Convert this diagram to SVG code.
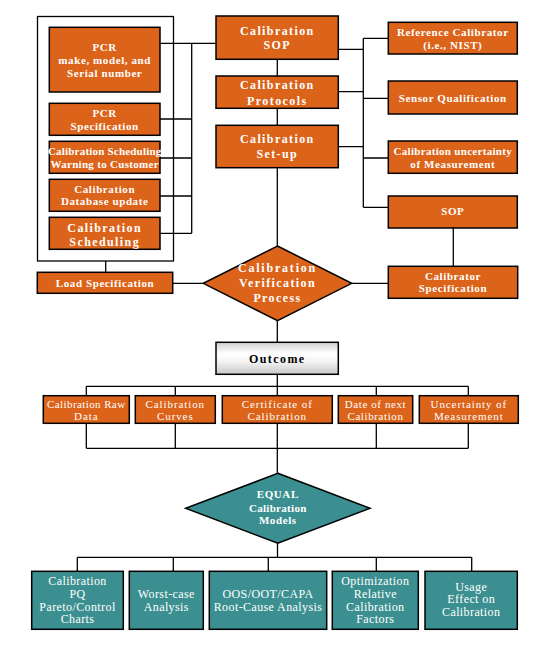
<svg xmlns="http://www.w3.org/2000/svg" width="554" height="652" viewBox="0 0 554 652">
<defs>
<linearGradient id="og" x1="0" y1="0" x2="0" y2="1">
<stop offset="0" stop-color="#cfcfcf"/>
<stop offset="0.35" stop-color="#ffffff"/>
<stop offset="0.6" stop-color="#f4f4f4"/>
<stop offset="1" stop-color="#c8c8c8"/>
</linearGradient>
<style>
.o{fill:#dc631a;stroke:#000;stroke-width:1.5}
.t{fill:#3c8f90;stroke:#000;stroke-width:1.5}
.ln{stroke:#000;stroke-width:1.3;fill:none}
text{font-family:"Liberation Serif","Times New Roman",serif;text-anchor:middle;fill:#fff}
.b{font-weight:bold;font-size:11px;letter-spacing:0.6px}
.b2{font-weight:bold;font-size:12px;letter-spacing:1.4px}
.r{font-size:12px;letter-spacing:0.4px}
.r2{font-size:11px;letter-spacing:0.9px}
</style>
</defs>
<rect width="554" height="652" fill="#fff"/>
<g id="connectors" class="ln">
<rect x="37.5" y="16.5" width="136" height="244.5" fill="none"/>
<path d="M160 43.3H216M160 119H191.7M160 158H191.7M160 196H191.7M160 233.3H191.7M191.7 43.3V233.3"/>
<path d="M277.3 59.3V76M277.3 108.3V125.3M277.3 167.7V246"/>
<path d="M338.3 49.3H363.3M338.3 91.7H363.3M338.3 146.7H363.3M363.3 38.3V207.3M363.3 38.3H388.3M363.3 98.3H388.3M363.3 158H388.3M363.3 207.3H388.3"/>
<path d="M453.3 228V266.3"/>
<path d="M105.7 261V272.3M172.7 283.3H203.3M351.7 283.3H388.3"/>
<path d="M277.3 320.7V342.3M277.3 374.3V473.3"/>
<path d="M86.3 386.3H468.3M86.3 386.3V395.7M175.3 386.3V395.7M376.3 386.3V395.7M468.3 386.3V395.7"/>
<path d="M86.3 448.3H468.3M86.3 423.3V448.3M175.3 423.3V448.3M376.3 423.3V448.3M468.3 423.3V448.3"/>
<path d="M277.5 543.3V557.3M77.3 557.3H471.7M77.3 557.3V571.3M173.3 557.3V571.3M268.3 557.3V571.3M376.3 557.3V571.3M471.7 557.3V571.3"/>
</g>
<g id="pcr-make">
<rect class="o" x="49.3" y="27.3" width="110.7" height="64.7"/>
<text class="b" x="104.7" y="50.5">PCR</text>
<text class="b" x="104.7" y="63.5">make, model, and</text>
<text class="b" x="104.7" y="76.5">Serial number</text>
</g>
<g id="pcr-spec">
<rect class="o" x="49.3" y="103.3" width="110.7" height="32"/>
<text class="b" x="104.7" y="117">PCR</text>
<text class="b" x="104.7" y="130">Specification</text>
</g>
<g id="sched-warning">
<rect class="o" x="49.3" y="141.3" width="110.7" height="32"/>
<text class="b" x="104.7" y="155" style="letter-spacing:0.2px">Calibration Scheduling</text>
<text class="b" x="104.7" y="167.5" style="letter-spacing:0.3px">Warning to Customer</text>
</g>
<g id="database">
<rect class="o" x="49.3" y="179.3" width="110.7" height="32"/>
<text class="b" x="104.7" y="192.5">Calibration</text>
<text class="b" x="104.7" y="205">Database update</text>
</g>
<g id="scheduling">
<rect class="o" x="49.3" y="217.3" width="110.7" height="32"/>
<text class="b2" x="104.7" y="232">Calibration</text>
<text class="b2" x="104.7" y="245.5">Scheduling</text>
</g>
<g id="cal-sop">
<rect class="o" x="216" y="16" width="122.3" height="43.3"/>
<text class="b2" x="277.3" y="35">Calibration</text>
<text class="b2" x="277.3" y="49.3">SOP</text>
</g>
<g id="cal-protocols">
<rect class="o" x="216" y="76" width="122.3" height="32.3"/>
<text class="b2" x="277.3" y="89">Calibration</text>
<text class="b2" x="277.3" y="104.5">Protocols</text>
</g>
<g id="cal-setup">
<rect class="o" x="216" y="125.3" width="122.3" height="42.4"/>
<text class="b2" x="277.3" y="143">Calibration</text>
<text class="b2" x="277.3" y="157.5">Set-up</text>
</g>
<g id="ref-calibrator">
<rect class="o" x="388.3" y="22.3" width="129" height="31.7"/>
<text class="b" x="452.8" y="35.5">Reference Calibrator</text>
<text class="b" x="452.8" y="48.5">(i.e., NIST)</text>
</g>
<g id="sensor-qual">
<rect class="o" x="388.3" y="81" width="129" height="33"/>
<text class="b" x="452.8" y="102">Sensor Qualification</text>
</g>
<g id="cal-uncertainty">
<rect class="o" x="388.3" y="141" width="129" height="32.3"/>
<text class="b" x="452.8" y="155" style="letter-spacing:0.3px">Calibration uncertainty</text>
<text class="b" x="452.8" y="167.5">of Measurement</text>
</g>
<g id="sop">
<rect class="o" x="388.3" y="196" width="129" height="32"/>
<text class="b" x="452.8" y="215">SOP</text>
</g>
<g id="load-spec">
<rect class="o" x="37.3" y="272.3" width="135.4" height="21"/>
<text class="b" x="105" y="286.7">Load Specification</text>
</g>
<g id="verification">
<polygon class="o" points="277.5,246 351.7,283.3 277.5,320.7 203.3,283.3"/>
<text class="b2" x="277.5" y="271.5" style="letter-spacing:1.8px">Calibration</text>
<text class="b2" x="277.5" y="286.7">Verification</text>
<text class="b2" x="277.5" y="301.7">Process</text>
</g>
<g id="calibrator-spec">
<rect class="o" x="388.3" y="266.3" width="129.4" height="32"/>
<text class="b" x="453" y="279.5">Calibrator</text>
<text class="b" x="453" y="292.3">Specification</text>
</g>
<g id="outcome">
<rect x="216" y="342.3" width="122.3" height="32" fill="url(#og)" stroke="#000" stroke-width="1.5"/>
<text class="b2" x="277.3" y="362.7" style="fill:#000">Outcome</text>
</g>
<g id="raw-data">
<rect class="o" x="43.3" y="395.7" width="86" height="27.6"/>
<text class="r2" x="86.3" y="407.5" style="letter-spacing:0.4px">Calibration Raw</text>
<text class="r2" x="86.3" y="420">Data</text>
</g>
<g id="curves">
<rect class="o" x="135.3" y="395.7" width="80" height="27.6"/>
<text class="r2" x="175.3" y="407.5">Calibration</text>
<text class="r2" x="175.3" y="420">Curves</text>
</g>
<g id="certificate">
<rect class="o" x="222.3" y="395.7" width="110" height="27.6"/>
<text class="r2" x="277.3" y="407.5">Certificate of</text>
<text class="r2" x="277.3" y="420">Calibration</text>
</g>
<g id="next-date">
<rect class="o" x="338.3" y="395.7" width="74.4" height="27.6"/>
<text class="r2" x="375.5" y="407.5" style="letter-spacing:0.6px">Date of next</text>
<text class="r2" x="375.5" y="420" style="letter-spacing:0.6px">Calibration</text>
</g>
<g id="uncertainty">
<rect class="o" x="419.3" y="395.7" width="99" height="27.6"/>
<text class="r2" x="468.8" y="407.5">Uncertainty of</text>
<text class="r2" x="468.8" y="420">Measurement</text>
</g>
<g id="equal">
<polygon class="t" points="277.8,473.3 370,508.3 277.8,543.3 185.7,508.3"/>
<text class="b" x="277.8" y="498.3">EQUAL</text>
<text class="b" x="277.8" y="511.7" style="letter-spacing:0.3px">Calibration</text>
<text class="b" x="277.8" y="524">Models</text>
</g>
<g id="pq">
<rect class="t" x="31.7" y="571.3" width="91.6" height="58"/>
<text class="r" x="77.5" y="585">Calibration</text>
<text class="r" x="77.5" y="597.7">PQ</text>
<text class="r" x="77.5" y="610.5">Pareto/Control</text>
<text class="r" x="77.5" y="623.3">Charts</text>
</g>
<g id="worst-case">
<rect class="t" x="129.3" y="571.3" width="74" height="58"/>
<text class="r" x="166.3" y="597.7">Worst-case</text>
<text class="r" x="166.3" y="610.5">Analysis</text>
</g>
<g id="oos">
<rect class="t" x="209.3" y="571.3" width="117.4" height="58"/>
<text class="r" x="268" y="597.7">OOS/OOT/CAPA</text>
<text class="r" x="268" y="610.5">Root-Cause Analysis</text>
</g>
<g id="optimization">
<rect class="t" x="332.3" y="571.3" width="86" height="58"/>
<text class="r" x="375.3" y="585">Optimization</text>
<text class="r" x="375.3" y="597.7">Relative</text>
<text class="r" x="375.3" y="610.5">Calibration</text>
<text class="r" x="375.3" y="623.3">Factors</text>
</g>
<g id="usage">
<rect class="t" x="425" y="571.3" width="92.3" height="58"/>
<text class="r" x="471.2" y="590.7">Usage</text>
<text class="r" x="471.2" y="603.3">Effect on</text>
<text class="r" x="471.2" y="616">Calibration</text>
</g>
</svg>
